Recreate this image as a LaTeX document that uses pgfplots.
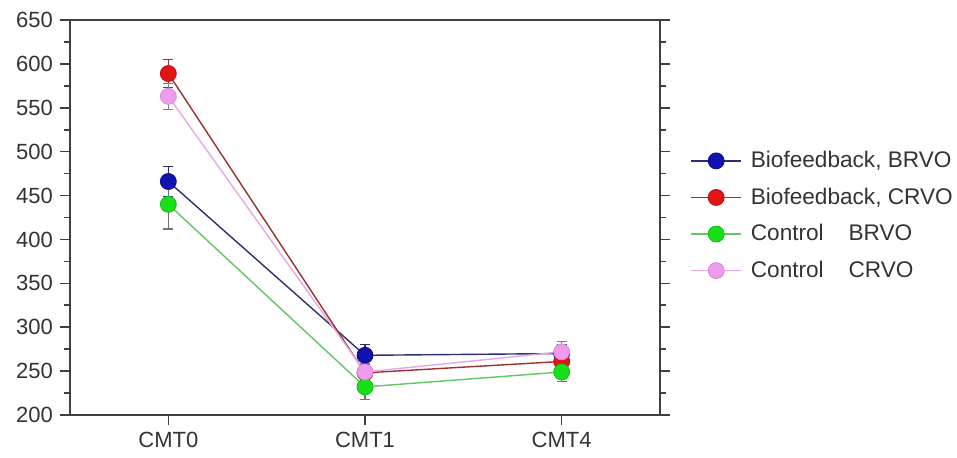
\documentclass[border=0pt]{standalone}
\usepackage{fontspec}
\setmainfont{Liberation Sans}
\usepackage{pgfplots}
\pgfplotsset{compat=1.18}
\definecolor{mblue}{HTML}{1212B0}
\definecolor{lblue}{HTML}{2E2E70}
\definecolor{mred}{HTML}{E01515}
\definecolor{lred}{HTML}{9A3030}
\definecolor{mgreen}{HTML}{18E018}
\definecolor{lgreen}{HTML}{60C860}
\definecolor{mpink}{HTML}{EE9CEE}
\definecolor{lpink}{HTML}{E4A8E4}
\begin{document}
\begin{tikzpicture}
\useasboundingbox (-35pt,-21.5pt) rectangle (443.5pt,207.5pt);
\begin{axis}[
  at={(0,0)}, anchor=south west,
  scale only axis, width=295pt, height=197.5pt,
  xmin=-0.5, xmax=2.5, ymin=200, ymax=650,
  xtick={0,1,2}, xticklabels={CMT0,CMT1,CMT4},
  ytick={200,250,...,650},
  minor ytick={225,275,...,625},
  xtick pos=bottom, ytick pos=both,
  tick align=outside,
  major tick length=5pt, minor tick length=3pt,
  axis line style={line width=1pt, color=black!75},
  every tick/.style={line width=0.8pt, black!75},
  tick label style={font=\fontsize{11}{13}\selectfont, text=black!80},
  /pgf/number format/assume math mode=true,
  legend style={at={(1.051,0.679)}, anchor=north west, draw=none, fill=none,
    inner sep=0pt, row sep=4.6pt, font=\fontsize{11.3}{13}\selectfont, text=black!80,
    nodes={inner xsep=4.5pt}},
  legend cell align=left,
  legend image code/.code={\draw[#1, mark repeat=2, mark phase=2] plot coordinates {(0pt,0pt) (12.5pt,0pt) (25pt,0pt)};},
  error bars/y dir=both, error bars/y explicit,
]
\addplot+[color=lblue, line width=0.7pt, mark=*, mark size=4pt,
  mark options={fill=mblue, draw=mblue!75!black, line width=0.4pt},
  error bars/error bar style={line width=0.6pt, color=lblue},
  error bars/error mark options={rotate=90, mark size=2.5pt, line width=0.6pt, color=lblue}]
  coordinates {(0,466) +- (0,17) (1,268) +- (0,12) (2,270) +- (0,10)};
\addlegendentry{Biofeedback, BRVO}
\addplot+[color=lred, line width=0.7pt, mark=*, mark size=4pt,
  mark options={fill=mred, draw=mred!80!black, line width=0.4pt},
  error bars/error bar style={line width=0.6pt, color=lred},
  error bars/error mark options={rotate=90, mark size=2.5pt, line width=0.6pt, color=lred}]
  coordinates {(0,589) +- (0,16) (1,248) +- (0,10) (2,261) +- (0,10)};
\addlegendentry{Biofeedback, CRVO}
\addplot+[color=lgreen, line width=0.7pt, mark=*, mark size=4pt,
  mark options={fill=mgreen, draw=mgreen!85!black, line width=0.4pt},
  error bars/error bar style={line width=0.6pt, color=black!55},
  error bars/error mark options={rotate=90, mark size=2.5pt, line width=0.6pt, color=black!55}]
  coordinates {(0,440) +- (0,28) (1,232) +- (0,14) (2,249) +- (0,11)};
\addlegendentry{Control\hspace{1.1em}BRVO}
\addplot+[color=lpink, line width=0.7pt, mark=*, mark size=4pt,
  mark options={fill=mpink, draw=mpink!90!black, line width=0.4pt},
  error bars/error bar style={line width=0.6pt, color=black!50},
  error bars/error mark options={rotate=90, mark size=2.5pt, line width=0.6pt, color=black!50}]
  coordinates {(0,563) +- (0,15) (1,249) +- (0,10) (2,272) +- (0,12)};
\addlegendentry{Control\hspace{1.1em}CRVO}
\end{axis}
\end{tikzpicture}
\end{document}
